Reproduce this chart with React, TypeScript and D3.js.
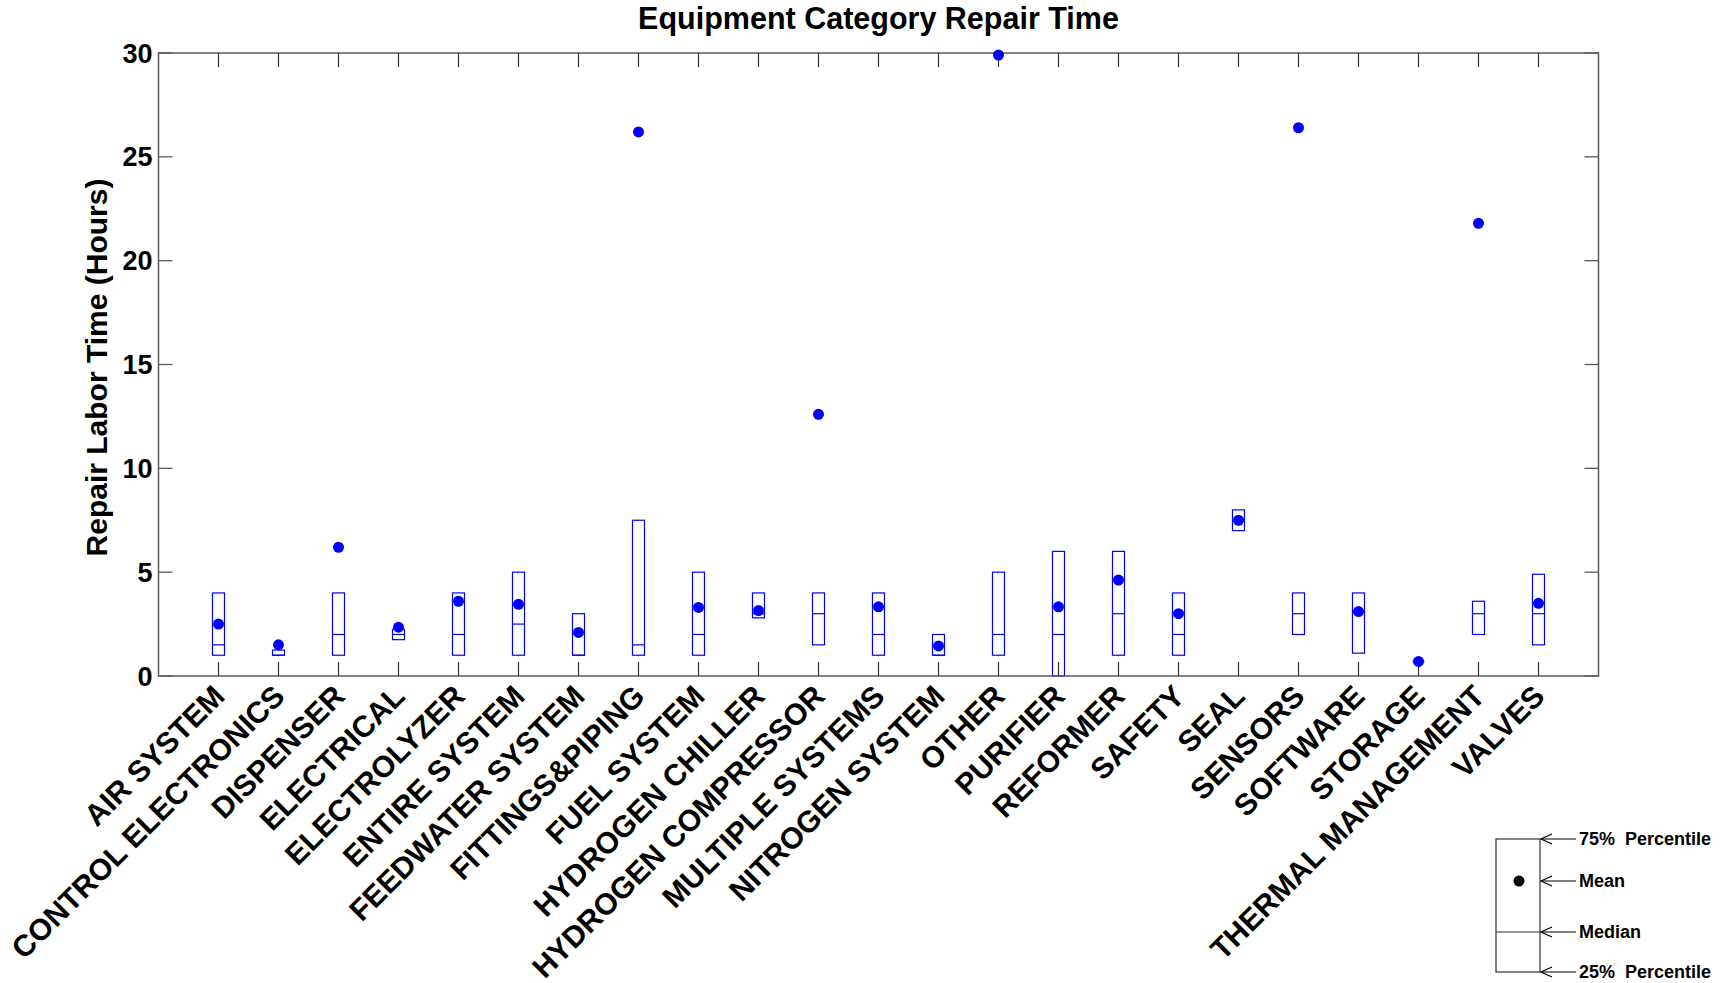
import React from "react";
import * as d3 from "d3";

const categories = [
  "AIR SYSTEM", "CONTROL ELECTRONICS", "DISPENSER", "ELECTRICAL", "ELECTROLYZER",
  "ENTIRE SYSTEM", "FEEDWATER SYSTEM", "FITTINGS&PIPING", "FUEL SYSTEM", "HYDROGEN CHILLER",
  "HYDROGEN COMPRESSOR", "MULTIPLE SYSTEMS", "NITROGEN SYSTEM", "OTHER", "PURIFIER",
  "REFORMER", "SAFETY", "SEAL", "SENSORS", "SOFTWARE", "STORAGE", "THERMAL MANAGEMENT", "VALVES",
];
const q1Values = [1, 1, 1, 1.75, 1, 1, 1, 1, 1, 2.8, 1.5, 1, 1, 1, 0, 1, 1, 7, 2, 1.1, 0.7, 2, 1.5];
const q3Values = [4, 1.25, 4, 2.25, 4, 5, 3, 7.5, 5, 4, 4, 4, 2, 5, 6, 6, 4, 8, 4, 4, 0.7, 3.6, 4.9];
const medianValues = [1.5, 1, 2, 2, 2, 2.5, 1, 1.5, 2, 3, 3, 2, 1, 2, 2, 3, 2, 7.5, 3, 3.1, 0.7, 3, 3];
const meanValues = [2.5, 1.5, 6.2, 2.35, 3.6, 3.45, 2.1, 26.2, 3.3, 3.15, 12.6, 3.33, 1.45, 29.9, 3.33, 4.62, 3.0, 7.5, 26.4, 3.1, 0.7, 21.8, 3.5];
const yTicks = [0, 5, 10, 15, 20, 25, 30];

const W = 1726, H = 983;
const L = 158.5, R = 1598.5, T = 53, B = 676;
const FONT = "'Liberation Sans', Arial, sans-serif";
const BLUE = "#0000ff";
const AXIS = "#5a5a5a";

export default function App() {
  const x = d3.scaleLinear().domain([0, categories.length + 1]).range([L, R]);
  const y = d3.scaleLinear().domain([0, 30]).range([B, T]);
  const bw = 12;
  const tickLen = 14;

  const legendX0 = 1496, legendX1 = 1540;
  const legTop = 839, legBot = 972, legMed = 932, legMean = 881;
  const arrow = (yy: number, key: string) => (
    <g key={key} stroke="#000" strokeWidth={1.2} fill="none">
      <line x1={legendX1 + 1} y1={yy} x2={1576} y2={yy} />
      <polyline points={`${legendX1 + 12},${yy - 5} ${legendX1 + 1},${yy} ${legendX1 + 12},${yy + 5}`} />
    </g>
  );

  return (
    <svg width={W} height={H} style={{ position: "absolute", left: 0, top: 0, background: "#fff" }} fontFamily={FONT}>
      <rect x={0} y={0} width={W} height={H} fill="#fff" />
      <text x={(L + R) / 2} y={29} textAnchor="middle" fontSize={30.5} fontWeight="bold" fill="#000">
        Equipment Category Repair Time
      </text>

      {/* boxes */}
      {categories.map((c, i) => {
        const cx = x(i + 1);
        return (
          <g key={c} stroke={BLUE} strokeWidth={1.2} fill="none">
            <rect x={cx - bw / 2} y={y(q3Values[i])} width={bw} height={y(q1Values[i]) - y(q3Values[i])} />
            <line x1={cx - bw / 2} x2={cx + bw / 2} y1={y(medianValues[i])} y2={y(medianValues[i])} />
          </g>
        );
      })}

      {/* frame */}
      <rect x={L} y={T} width={R - L} height={B - T} fill="none" stroke={AXIS} strokeWidth={1.5} />
      {categories.map((c, i) => (
        <g key={"t" + c} stroke="#333" strokeWidth={1.2}>
          <line x1={x(i + 1)} x2={x(i + 1)} y1={B} y2={B - tickLen} />
          <line x1={x(i + 1)} x2={x(i + 1)} y1={T} y2={T + tickLen} />
        </g>
      ))}
      {yTicks.map((v) => (
        <g key={"y" + v}>
          <line x1={L} x2={L + tickLen} y1={y(v)} y2={y(v)} stroke={AXIS} strokeWidth={1.3} />
          <line x1={R} x2={R - tickLen} y1={y(v)} y2={y(v)} stroke={AXIS} strokeWidth={1.3} />
          <text x={L - 6} y={y(v) + 9.5} textAnchor="end" fontSize={27} fontWeight="bold" fill="#000">
            {v}
          </text>
        </g>
      ))}

      {/* means */}
      {categories.map((c, i) => (
        <circle key={"m" + c} cx={x(i + 1)} cy={y(meanValues[i])} r={5.5} fill={BLUE} />
      ))}

      {/* category labels */}
      {categories.map((c, i) => (
        <text
          key={"l" + c}
          transform={`translate(${x(i + 1) + 8},${B + 22}) rotate(-45)`}
          textAnchor="end"
          fontSize={30}
          fontWeight="bold"
          fill="#000"
        >
          {c}
        </text>
      ))}

      {/* y label */}
      <text transform={`translate(${107},${(T + B) / 2 + 3}) rotate(-90)`} textAnchor="middle" fontSize={30} fontWeight="bold" fill="#000">
        Repair Labor Time (Hours)
      </text>

      {/* legend */}
      <g stroke="#333" strokeWidth={1.2} fill="none">
        <rect x={legendX0} y={legTop} width={legendX1 - legendX0} height={legBot - legTop} />
        <line x1={legendX0} x2={legendX1} y1={legMed} y2={legMed} />
      </g>
      <circle cx={1519} cy={legMean} r={5.5} fill="#000" />
      {arrow(legTop, "a1")}
      {arrow(legMean, "a2")}
      {arrow(legMed, "a3")}
      {arrow(legBot, "a4")}
      <g fontSize={18} fontWeight="bold" fill="#000">
        <text x={1579} y={legTop + 6} xmlSpace="preserve">75%  Percentile</text>
        <text x={1579} y={legMean + 6}>Mean</text>
        <text x={1579} y={legMed + 6}>Median</text>
        <text x={1579} y={legBot + 6} xmlSpace="preserve">25%  Percentile</text>
      </g>
    </svg>
  );
}
